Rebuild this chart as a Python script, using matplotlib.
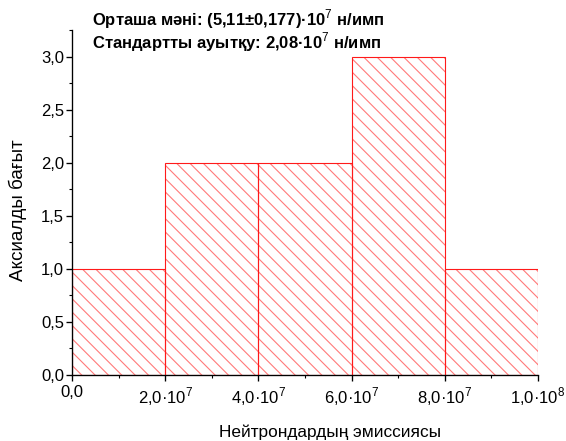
import matplotlib
matplotlib.use("Agg")
import matplotlib.pyplot as plt
from matplotlib.ticker import FixedLocator, MultipleLocator, FuncFormatter

# Histogram of neutron emission (bins of 2·10^7)
bin_edges = [0.0, 2.0e7, 4.0e7, 6.0e7, 8.0e7, 1.0e8]
counts = [1, 2, 2, 3, 1]
x_tick_labels = ["0,0", "2,0·10$^{7}$", "4,0·10$^{7}$", "6,0·10$^{7}$",
                 "8,0·10$^{7}$", "1,0·10$^{8}$"]
mean_text = "Орташа мəні: (5,11±0,177)·10$^{7}$ н/имп"
std_text = "Стандартты ауытқу: 2,08·10$^{7}$ н/имп"
x_label = "Нейтрондардың эмиссиясы"
y_label = "Аксиалды бағыт"

plt.rcParams["font.family"] = ["Liberation Sans", "DejaVu Sans"]
plt.rcParams["mathtext.fontset"] = "custom"
plt.rcParams["mathtext.rm"] = "Liberation Sans"
plt.rcParams["mathtext.bf"] = "Liberation Sans:bold"
plt.rcParams["hatch.linewidth"] = 1.0

DPI = 80
fig = plt.figure(figsize=(566 / DPI, 441 / DPI), dpi=DPI)
ax = fig.add_axes([72 / 566, 1 - 375 / 441, (538 - 72) / 566, (375 - 30) / 441])

widths = [b - a for a, b in zip(bin_edges[:-1], bin_edges[1:])]
lefts = bin_edges[:-1]

# hatch layer (light red), then crisp red outlines on top
ax.bar(lefts, counts, width=widths, align="edge", facecolor="white",
       edgecolor="#ff7a7a", hatch="\\\\", linewidth=0, zorder=2)
ax.bar(lefts, counts, width=widths, align="edge", facecolor="none",
       edgecolor="#ff1a1a", linewidth=1.0, zorder=3)

ax.set_xlim(0, 1.0e8)
ax.set_ylim(0, 3.25)

ax.spines["top"].set_visible(False)
ax.spines["right"].set_visible(False)
for s in ("left", "bottom"):
    ax.spines[s].set_linewidth(1.2)
    ax.spines[s].set_zorder(4)

ax.xaxis.set_major_locator(FixedLocator(bin_edges))
ax.set_xticklabels(x_tick_labels)
ax.xaxis.set_minor_locator(MultipleLocator(1.0e7))
ax.yaxis.set_major_locator(MultipleLocator(0.5))
ax.yaxis.set_minor_locator(MultipleLocator(0.25))
ax.yaxis.set_major_formatter(FuncFormatter(lambda v, p: f"{v:.1f}".replace(".", ",")))

ax.tick_params(which="major", direction="out", length=5, width=1.2,
               labelsize=15, colors="black")
ax.tick_params(axis="x", which="major", pad=4)
ax.tick_params(axis="y", which="major", pad=2)
ax.tick_params(which="minor", direction="out", length=3, width=1.0)

fig.text(219 / 566, 1 - 432 / 441, x_label, fontsize=15.5, ha="left", va="center")
fig.text(18 / 566, 1 - 210 / 441, y_label, fontsize=17, ha="center", va="center",
         rotation=90)

# two-line summary in the upper left
fig.text(92 / 566, 1 - 19 / 441, mean_text, fontsize=15, fontweight="bold",
         va="center", ha="left")
fig.text(92 / 566, 1 - 42 / 441, std_text, fontsize=15, fontweight="bold",
         va="center", ha="left")

fig.savefig("out.png", dpi=DPI)
